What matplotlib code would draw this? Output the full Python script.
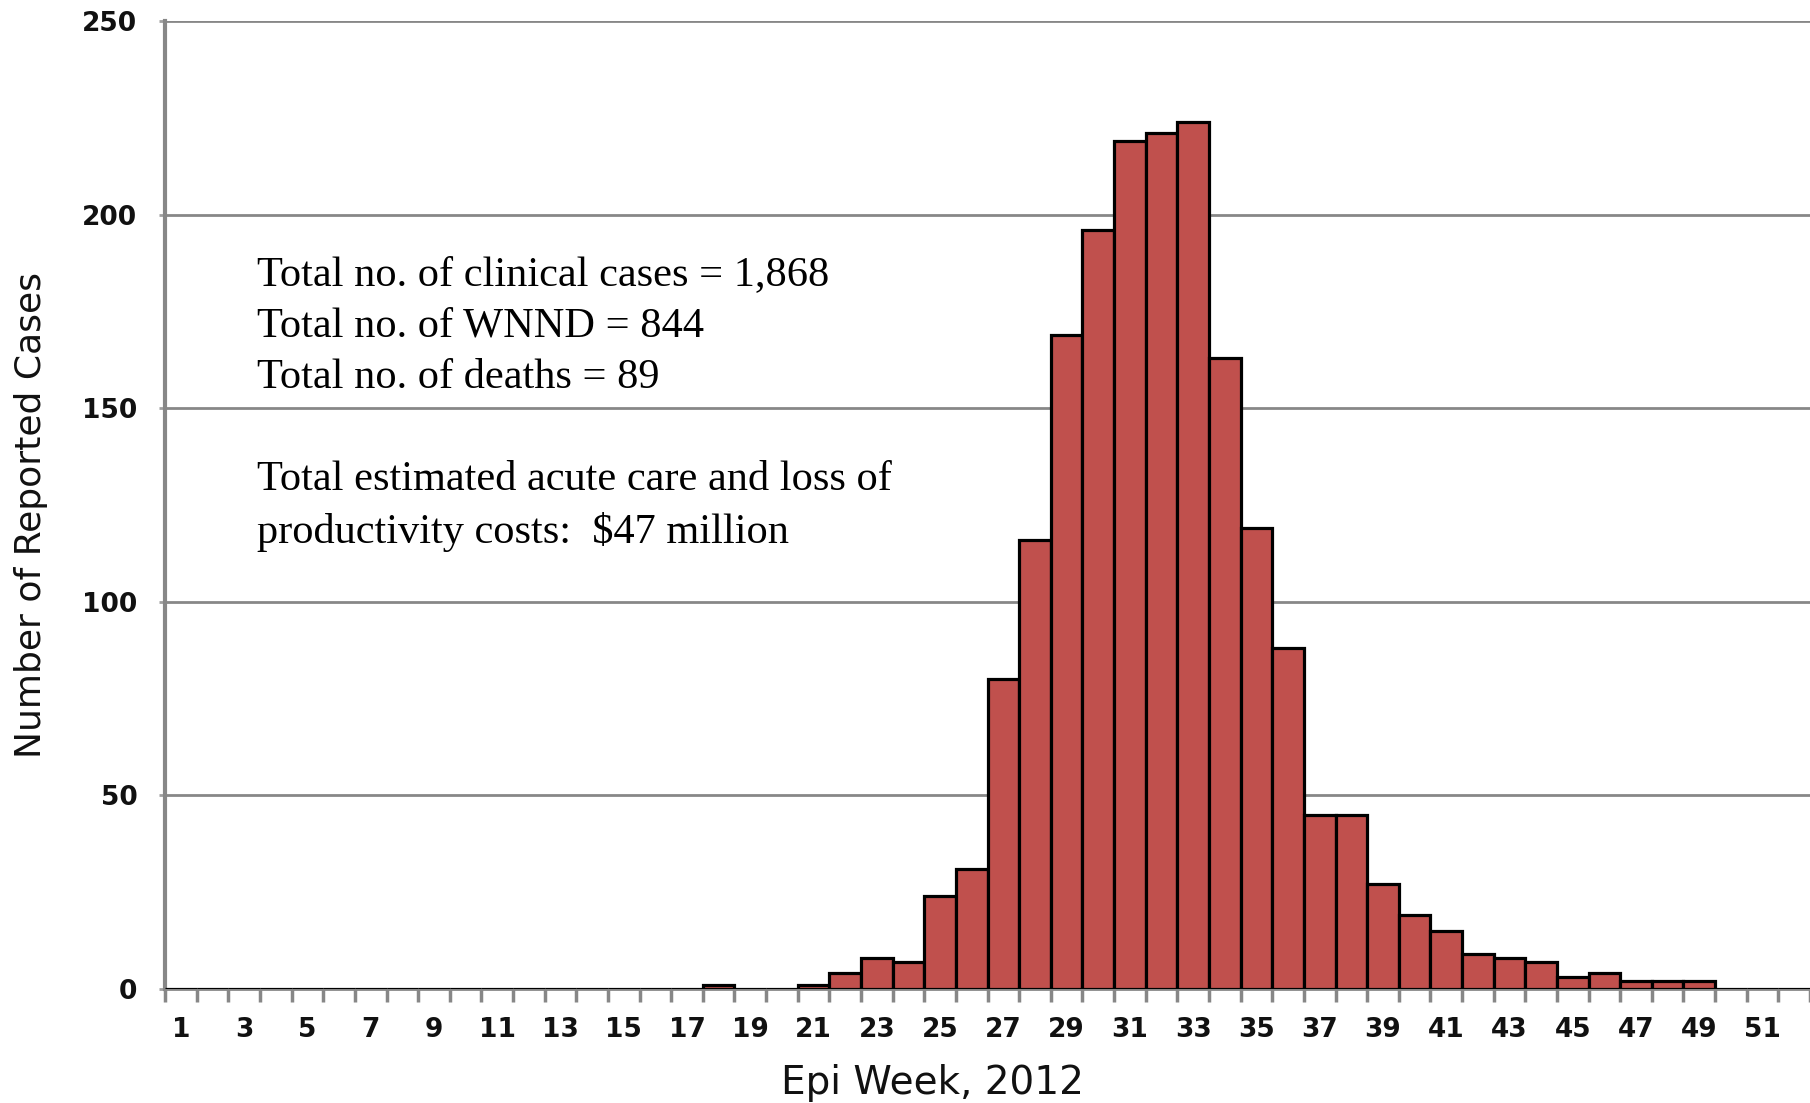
import numpy as np
import matplotlib.pyplot as plt

# weekly counts of reported cases, epi weeks 1-52 of 2012
weeks = list(range(1, 53))
cases = [0] * 52
reported = {
    18: 1, 21: 1, 22: 4, 23: 8, 24: 7, 25: 24, 26: 31, 27: 80, 28: 116,
    29: 169, 30: 196, 31: 219, 32: 221, 33: 224, 34: 163, 35: 119, 36: 88,
    37: 45, 38: 45, 39: 27, 40: 19, 41: 15, 42: 9, 43: 8, 44: 7, 45: 3,
    46: 4, 47: 2, 48: 2, 49: 2,
}
for wk, n in reported.items():
    cases[wk - 1] = n

y_ticks = [0, 50, 100, 150, 200, 250]
x_labels = list(range(1, 52, 2))

notes = [
    "Total no. of clinical cases = 1,868",
    "Total no. of WNND = 844",
    "Total no. of deaths = 89",
    "",
    "Total estimated acute care and loss of",
    "productivity costs:  $47 million",
]

grey = '#878787'

fig = plt.figure(figsize=(18.1, 11.03), dpi=100)
ax = fig.add_axes([0.0912, 0.1034, 0.9088, 0.8776])

ax.bar(weeks, cases, width=1.0, color='#C0504D', edgecolor='black',
       linewidth=2.3, zorder=3)

ax.set_xlim(0.5, 52.5)
ax.set_ylim(0, 250)

# gridlines
ax.set_yticks(y_ticks)
ax.yaxis.grid(True, color=grey, linewidth=2.0)
ax.set_axisbelow(True)
ax.set_yticklabels([str(v) for v in y_ticks], fontsize=19, fontweight='bold',
                   color='#111111')
ax.tick_params(axis='y', length=4, width=2, color='#a0a0a0', pad=16)

# ticks between bars, labels under odd weeks
ax.set_xticks(np.arange(0.5, 53, 1.0))
ax.set_xticklabels([])
ax.set_xticks(x_labels, minor=True)
ax.set_xticklabels([str(w) for w in x_labels], minor=True, fontsize=19,
                   fontweight='bold', color='#111111')
ax.tick_params(axis='x', which='major', length=9, width=2.5, color=grey)
ax.tick_params(axis='x', which='minor', length=0, pad=20)

for side in ['top', 'right']:
    ax.spines[side].set_visible(False)
ax.spines['left'].set_color(grey)
ax.spines['left'].set_linewidth(3)
ax.spines['bottom'].set_color(grey)
ax.spines['bottom'].set_linewidth(2)

ax.set_ylabel('Number of Reported Cases', fontsize=26, color='#111111')
ax.yaxis.set_label_coords(-0.071, 0.49)
fig.text(932 / 1810, 1 - 1083 / 1103, 'Epi Week, 2012', fontsize=28,
         ha='center', va='center', color='#111111')

# summary text block
y0 = 1 - 275 / 1103
for i, line in enumerate(notes):
    fig.text(257 / 1810, y0 - i * 51.3 / 1103, line, fontsize=30.5,
             family='Liberation Serif', ha='left', va='center')

fig.savefig('out.png', dpi=100)
